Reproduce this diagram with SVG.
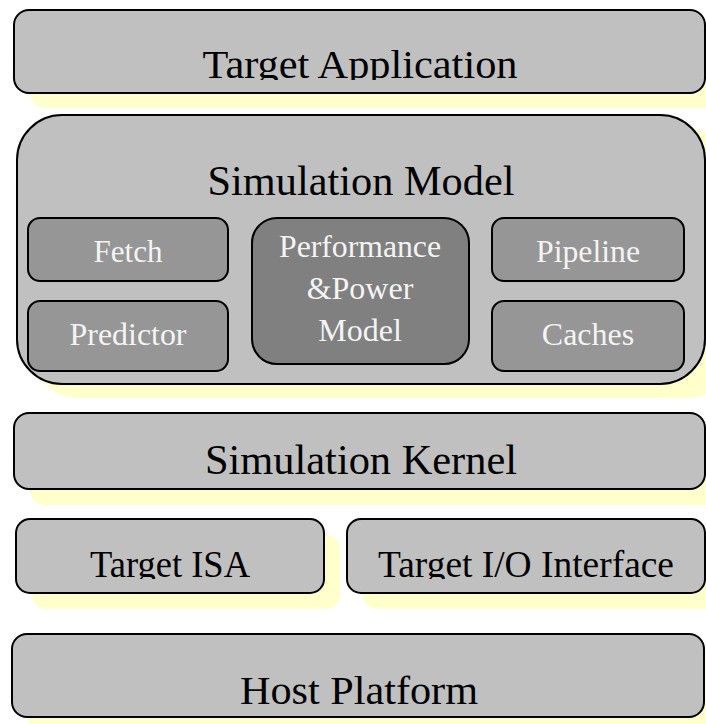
<svg xmlns="http://www.w3.org/2000/svg" width="706" height="724" viewBox="0 0 706 724">
<style>
.shadow{fill:#FFFFCC;stroke:none}
.box{fill:#C0C0C0;stroke:#000;stroke-width:2}
.sub{fill:#969696;stroke:#000;stroke-width:2}
.perf{fill:#808080;stroke:#000;stroke-width:2}
text{font-family:'Liberation Serif','Times New Roman',Times,serif}
.t{fill:#000;text-anchor:middle}
.w{fill:#F4F4F4;text-anchor:middle;font-size:32px}
</style>
<defs>
<clipPath id="c1"><rect x="0" y="0" width="706" height="80"/></clipPath>
<clipPath id="c4"><rect x="0" y="500" width="706" height="79"/></clipPath>
</defs>
<rect width="706" height="724" fill="#fff"/>
<g id="target-application">
<rect class="shadow" x="30" y="25" width="700" height="83" rx="15"/>
<rect class="box" x="14" y="10" width="691" height="83" rx="15"/>
<text class="t" x="360" y="78" font-size="40" textLength="315" lengthAdjust="spacingAndGlyphs" clip-path="url(#c1)">Target Application</text>
</g>
<g id="simulation-model">
<rect class="shadow" x="33" y="129" width="700" height="269" rx="45"/>
<rect class="box" x="17" y="115" width="688" height="269" rx="45"/>
<text class="t" x="361" y="195" font-size="42" textLength="307" lengthAdjust="spacingAndGlyphs">Simulation Model</text>
</g>
<g id="fetch">
<rect class="sub" x="28" y="218" width="200" height="63" rx="12"/>
<text class="w" x="128" y="262" textLength="69" lengthAdjust="spacingAndGlyphs">Fetch</text>
</g>
<g id="predictor">
<rect class="sub" x="28" y="301" width="200" height="70" rx="12"/>
<text class="w" x="128" y="345" textLength="117" lengthAdjust="spacingAndGlyphs">Predictor</text>
</g>
<g id="performance-power-model">
<rect class="perf" x="252" y="218" width="217" height="146" rx="25"/>
<text class="w" x="360" y="257" textLength="162" lengthAdjust="spacingAndGlyphs">Performance</text>
<text class="w" x="360" y="299">&amp;Power</text>
<text class="w" x="360" y="341">Model</text>
</g>
<g id="pipeline">
<rect class="sub" x="492" y="218" width="192" height="63" rx="12"/>
<text class="w" x="588" y="262" textLength="104" lengthAdjust="spacingAndGlyphs">Pipeline</text>
</g>
<g id="caches">
<rect class="sub" x="492" y="301" width="192" height="70" rx="12"/>
<text class="w" x="588" y="345">Caches</text>
</g>
<g id="simulation-kernel">
<rect class="shadow" x="30" y="428" width="700" height="77" rx="15"/>
<rect class="box" x="14" y="413" width="691" height="76" rx="15"/>
<text class="t" x="361" y="474" font-size="42" textLength="312" lengthAdjust="spacingAndGlyphs">Simulation Kernel</text>
</g>
<g id="target-isa">
<rect class="shadow" x="32" y="535" width="308" height="74" rx="14"/>
<rect class="box" x="16" y="519" width="308" height="74" rx="14"/>
<text class="t" x="170" y="577" font-size="37" textLength="160" lengthAdjust="spacingAndGlyphs" clip-path="url(#c4)">Target ISA</text>
</g>
<g id="target-io-interface">
<rect class="shadow" x="363" y="535" width="360" height="74" rx="14"/>
<rect class="box" x="347" y="519" width="358" height="74" rx="14"/>
<text class="t" x="526" y="577" font-size="37" textLength="296" lengthAdjust="spacingAndGlyphs" clip-path="url(#c4)">Target I/O Interface</text>
</g>
<g id="host-platform">
<rect class="shadow" x="28" y="650" width="700" height="83" rx="15"/>
<rect class="box" x="12" y="634" width="692" height="83" rx="15"/>
<text class="t" x="359" y="704" font-size="40" textLength="238" lengthAdjust="spacingAndGlyphs">Host Platform</text>
</g>
<g id="connectors"/>
</svg>
